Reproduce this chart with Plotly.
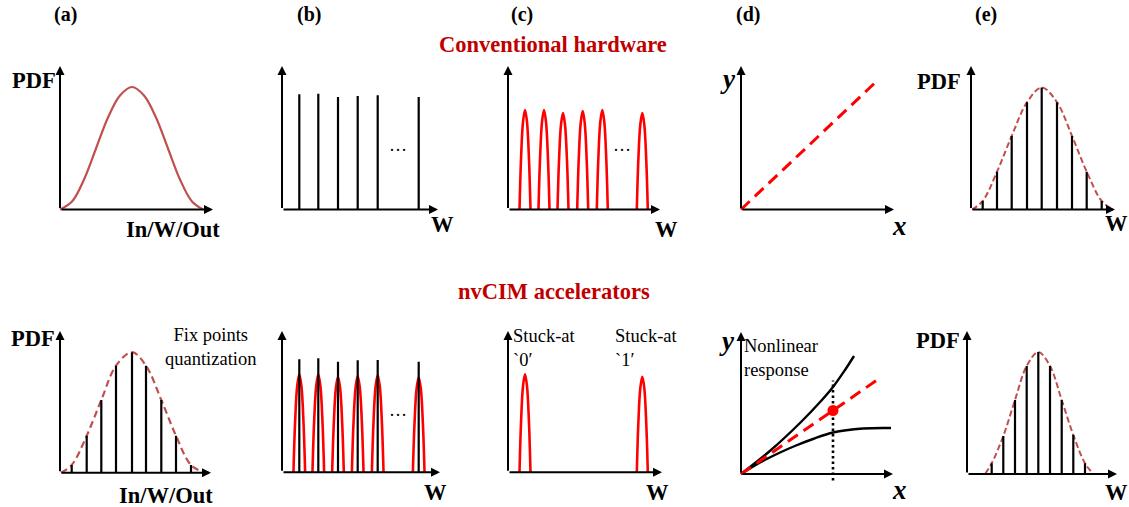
import plotly.graph_objects as go

W, H = 1129, 507
PAD = 14
FONT = "Liberation Serif"
DARKRED = "#C00000"
BROWN = "#C0504D"
RED = "#FF0000"

# ---------------- panel geometry (origin x, origin y, x-axis length, y-axis length) in px
ORDER = ["a1", "b1", "c1", "d1", "e1", "a2", "b2", "c2", "d2", "e2"]
PANELS = {
    "a1": (60, 209.5, 153, 143.5),
    "b1": (282, 209.5, 156, 143.5),
    "c1": (508, 209.5, 152, 143.5),
    "d1": (741, 209.5, 153, 143.5),
    "e1": (971, 209.5, 144, 143.5),
    "a2": (60, 472.7, 151, 141.7),
    "b2": (282, 472.3, 158, 141.3),
    "c2": (508, 472.3, 154, 141.3),
    "d2": (741, 474.0, 152, 142.0),
    "e2": (967, 474.0, 150, 143.0),
}

# ---------------- data
# (a) continuous distribution
A1_X = [0, 12, 24, 36, 48, 60, 72, 84, 96, 108, 120, 132, 143]
A1_Y = [0, 8, 30, 61, 92, 114, 122.5, 114, 92, 61, 30, 8, 0]

# (b) discrete weight levels
B_LEVEL_X = [17.3, 36.3, 56, 75.7, 95.7, 136.7]
B1_LEVEL_H = [115.2, 115.8, 112.5, 113.5, 114.2, 112.5]
B2_LEVEL_H = [113, 114, 110.6, 112, 112.3, 110.6]
B2_PEAK_H = [98, 98, 95.6, 96.3, 97.3, 95]

# (c) device peaks
C1_PEAK_X = [17, 36, 55, 74.7, 94.3, 134.3]
C1_PEAK_H = [99.5, 99.5, 96.5, 98.5, 99.5, 96.5]
C2_PEAK_X = [17, 134.3]
C2_PEAK_H = [98, 95.6]
PEAK_DX = [-5.5, -4, -2, 0, 2, 4, 5.5]
PEAK_FRAC = [0, 0.5, 0.88, 1, 0.88, 0.5, 0]

# (d) response curves
D1_X = [0, 138]
D1_Y = [0, 130.5]
D2_IDEAL_X = [0, 139]
D2_IDEAL_Y = [0, 96]
D2_UP_X = [0, 30, 60, 80, 92, 104, 113]
D2_UP_Y = [0, 24, 52, 73, 87, 104, 118]
D2_LOW_X = [0, 20, 38, 55, 72, 92, 122, 150]
D2_LOW_Y = [0, 12, 21, 28.5, 35, 41.5, 45.5, 46]
D2_PROBE_X = 92
D2_PROBE_Y = [-6.5, 93.5]
D2_POINT_Y = 63.5

# (e) quantized distributions
A2_BAR_X = [11.7, 26.7, 41.3, 56, 72, 86, 101.3, 116, 131]
A2_BAR_H = [7.7, 37, 72.7, 107, 120.5, 107, 72.7, 37, 7.7]
A2_CURVE_END = [1, 145]
E1_BAR_X = [11.7, 26, 40.7, 56, 70.7, 86, 101, 115.7, 130.7]
E1_BAR_H = [8.5, 37.8, 73.5, 107.2, 122, 107.2, 73.5, 37.8, 8.5]
E1_CURVE_END = [1, 142]
E2_BAR_X = [24.7, 36.3, 48, 59.7, 71.3, 83, 94.7, 106.3, 118]
E2_BAR_H = [10.7, 38, 74, 108, 122, 108, 74, 39, 10.7]
E2_CURVE_END = [18, 126.3]

fig = go.Figure()
layout = dict(width=W, height=H, margin=dict(l=0, r=0, t=0, b=0),
              paper_bgcolor="white", plot_bgcolor="rgba(0,0,0,0)",
              showlegend=False)
annotations = []
AX = {}

for i, key in enumerate(ORDER, start=1):
    ox, oy, xl, yl = PANELS[key]
    left = max(ox - PAD, 0)
    right = min(ox + xl + PAD, W)
    top = max(oy - yl - PAD, 0)
    bottom = min(oy + PAD, H)
    sfx = "" if i == 1 else str(i)
    layout["xaxis" + sfx] = dict(domain=[left / W, right / W], range=[left - ox, right - ox],
                                 visible=False, fixedrange=True, anchor="y" + sfx)
    layout["yaxis" + sfx] = dict(domain=[(H - bottom) / H, (H - top) / H],
                                 range=[oy - bottom, oy - top],
                                 visible=False, fixedrange=True, anchor="x" + sfx)
    AX[key] = ("x" + sfx, "y" + sfx)
    xr, yr = AX[key]
    # arrowed axes
    for (x, y) in [(xl, 0), (0, yl)]:
        annotations.append(dict(x=x, y=y, ax=0, ay=0, xref=xr, yref=yr, axref=xr, ayref=yr,
                                text="", showarrow=True, arrowhead=2, arrowsize=0.9,
                                arrowwidth=2, arrowcolor="black", standoff=0, startstandoff=0))


def add(key, x, y, color, width, dash="solid", shape="linear"):
    xr, yr = AX[key]
    fig.add_trace(go.Scatter(x=x, y=y, xaxis=xr, yaxis=yr, mode="lines",
                             line=dict(color=color, width=width, dash=dash, shape=shape),
                             hoverinfo="skip", connectgaps=False))


def stems(xs, hs):
    x, y = [], []
    for a, h in zip(xs, hs):
        x += [a, a, None]
        y += [0, h, None]
    return x, y


def peaks(xs, hs, scale=1.0):
    x, y = [], []
    for a, h in zip(xs, hs):
        x += [a + dx * scale for dx in PEAK_DX] + [None]
        y += [h * f for f in PEAK_FRAC] + [None]
    return x, y


# (a1)
add("a1", A1_X, A1_Y, BROWN, 2.2, shape="spline")
# (b1)
add("b1", *stems(B_LEVEL_X, B1_LEVEL_H), "black", 2.2)
# (c1)
add("c1", *peaks(C1_PEAK_X, C1_PEAK_H), RED, 2.6, shape="spline")
# (d1)
add("d1", D1_X, D1_Y, RED, 3, dash="12px,7px")
# (e1)
add("e1", [E1_CURVE_END[0]] + E1_BAR_X + [E1_CURVE_END[1]], [0] + E1_BAR_H + [0],
    BROWN, 2, dash="6px,3px", shape="spline")
add("e1", *stems(E1_BAR_X, E1_BAR_H), "black", 2.2)
# (a2)
add("a2", [A2_CURVE_END[0]] + A2_BAR_X + [A2_CURVE_END[1]], [0] + A2_BAR_H + [0],
    BROWN, 2.2, dash="7px,4px", shape="spline")
add("a2", *stems(A2_BAR_X, A2_BAR_H), "black", 2.2)
# (b2)
add("b2", *peaks(B_LEVEL_X, B2_PEAK_H, 1.06), RED, 2.6, shape="spline")
add("b2", *stems(B_LEVEL_X, B2_LEVEL_H), "black", 2.2)
# (c2)
add("c2", *peaks(C2_PEAK_X, C2_PEAK_H), RED, 2.6, shape="spline")
# (d2)
add("d2", D2_UP_X, D2_UP_Y, "black", 2.4, shape="spline")
add("d2", D2_LOW_X, D2_LOW_Y, "black", 2.4, shape="spline")
add("d2", D2_IDEAL_X, D2_IDEAL_Y, RED, 3, dash="12px,7px")
add("d2", [D2_PROBE_X, D2_PROBE_X], D2_PROBE_Y, "black", 2.6, dash="2.5px,3px")
xr, yr = AX["d2"]
fig.add_trace(go.Scatter(x=[D2_PROBE_X], y=[D2_POINT_Y], xaxis=xr, yaxis=yr, mode="markers",
                         marker=dict(color=RED, size=11), hoverinfo="skip"))
# (e2)
add("e2", [E2_CURVE_END[0]] + E2_BAR_X + [E2_CURVE_END[1]], [0] + E2_BAR_H + [0],
    BROWN, 2, dash="6px,3px", shape="spline")
add("e2", *stems(E2_BAR_X, E2_BAR_H), "black", 2.2)


# ---------------- text
def label(text, x, y, size, color="black", xanchor="center", align="center"):
    annotations.append(dict(text=text, x=x / W, y=1 - y / H, xref="paper", yref="paper",
                            xanchor=xanchor, yanchor="middle", align=align, showarrow=False,
                            font=dict(family=FONT, size=size, color=color)))


BIG = 22.5
SMALL = 18.5
for t, x in [("(a)", 65), ("(b)", 309), ("(c)", 522), ("(d)", 748), ("(e)", 986)]:
    label("<b>%s</b>" % t, x, 14, 20)

label("<b>Conventional hardware</b>", 553, 44, 22.5, DARKRED)
label("<b>nvCIM accelerators</b>", 554, 291, 22.5, DARKRED)

# top row
label("<b>PDF</b>", 33.5, 80, BIG)
label("<b>In/W/Out</b>", 173, 229, BIG)
label("<b>W</b>", 442, 224, BIG)
label("…", 398, 145, 18)
label("<b>W</b>", 667, 229, BIG)
label("…", 621.7, 145, 18)
label("<b><i>y</i></b>", 728, 79, 27)
label("<b><i>x</i></b>", 899, 226, 27)
label("<b>PDF</b>", 939, 82, BIG)
label("<b>W</b>", 1116, 223, BIG)

# bottom row
label("<b>PDF</b>", 32.5, 338, BIG)
label("Fix points<br>quantization", 211, 347, SMALL)
label("<b>In/W/Out</b>", 166, 495, BIG)
label("<b>W</b>", 435, 492, BIG)
label("…", 398, 410, 18)
label("<b>W</b>", 657, 492, BIG)
label("Stuck-at<br>`0′", 511, 348, SMALL, xanchor="left", align="left")
label("Stuck-at<br>`1′", 613, 348, SMALL, xanchor="left", align="left")
label("<b><i>y</i></b>", 727, 341, 27)
label("Nonlinear<br>response", 742, 358, SMALL, xanchor="left", align="left")
label("<b><i>x</i></b>", 899, 490, 27)
label("<b>PDF</b>", 938, 340, BIG)
label("<b>W</b>", 1116, 492, BIG)

layout["annotations"] = annotations
fig.update_layout(**layout)
fig.write_html("out.html")
